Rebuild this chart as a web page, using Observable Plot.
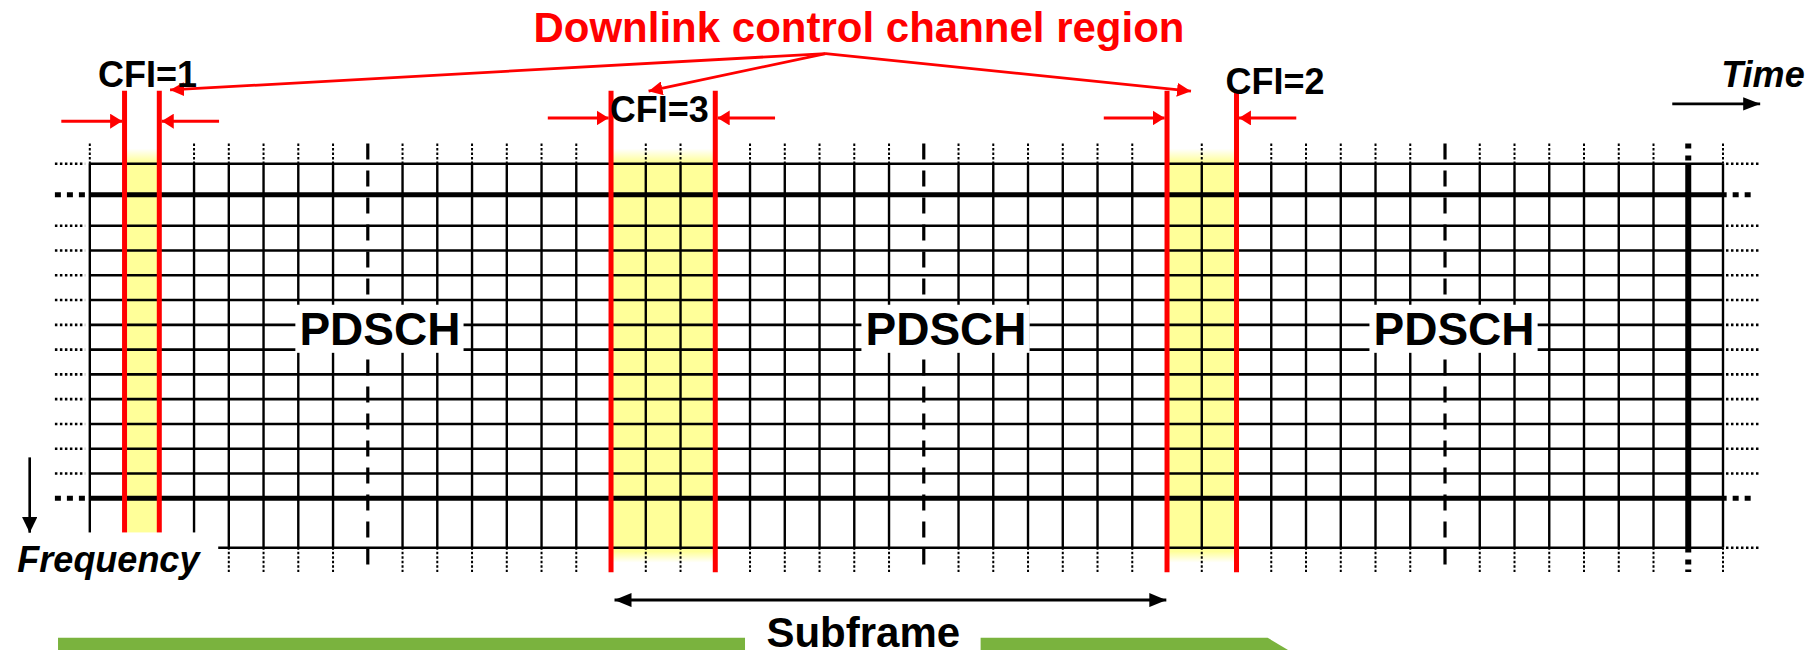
<!DOCTYPE html>
<html><head><meta charset="utf-8">
<script src="https://cdn.jsdelivr.net/npm/d3@7"></script>
<script src="https://cdn.jsdelivr.net/npm/@observablehq/plot@0.6"></script>
<style>html,body{margin:0;padding:0;background:#fff;} #chart svg{display:block}</style>
</head><body><div id="chart"></div>
<script>
// ---------------- data ----------------
// OFDM symbol boundaries (time axis, in symbol units)
const symbolLines = [0,3,4,5,6,7,9,10,11,12,13,14,16,17,19,20,21,22,23,25,26,27,28,29,30,32,34,35,36,37,38,40,41,42,43,44,45,47];
const slotBoundaries = [8, 24, 39];
const frameBoundaries = [46];
// subcarrier boundaries (frequency axis, in subcarrier units)
const subcarrierLines = [0, 1.25, 2.5, 3.5, 4.5, 5.5, 6.5, 7.5, 8.5, 9.5, 10.5, 11.5, 12.5, 13.5, 15.5];
const rbBoundaries = [1.25, 13.5];
// control regions
const cfiLabels = ["CFI=1", "CFI=3", "CFI=2"];
const cfiStartSymbol = [1, 15, 31];
const cfiValues = [1, 3, 2];
// channel labels
const channelLabels = ["PDSCH", "PDSCH", "PDSCH"];
const channelLabelSymbol = [8.35, 24.64, 39.26];
// texts
const titleText = "Downlink control channel region";
const timeText = "Time";
const freqText = "Frequency";
const subframeText = "Subframe";
const subframeSpan = [15, 31];

// ---------------- layout (data units) ----------------
const gridTop = 0, gridBottom = 15.5, extTop = -0.8, extBottom = 16.5;
const cfiLabelPos = [{x: 1.66, y: -3.10}, {x: 16.39, y: -1.685}, {x: 34.11, y: -2.835}];
const cfiArrowY = [-1.72, -1.85, -1.85];
const titlePos = {x: 22.135, y: -4.90};
const titleOrigin = {x: 21.18, y: -4.45};
const titleTips = [{x: 2.31, y: -2.98}, {x: 16.08, y: -2.93}, {x: 31.69, y: -2.93}];

// ---------------- derived tables ----------------
const thinRows = subcarrierLines.filter(d => !rbBoundaries.includes(d));
const cfi = cfiLabels.map((label, i) => ({
  label, start: cfiStartSymbol[i], end: cfiStartSymbol[i] + cfiValues[i],
  lx: cfiLabelPos[i].x, ly: cfiLabelPos[i].y, ay: cfiArrowY[i]
}));
const redLines = cfi.flatMap(d => [d.start, d.end]);
const cfiArrows = cfi.flatMap(d => [
  {x1: d.start - 1.82, x2: d.start - 0.07, y: d.ay},
  {x1: d.end + 1.72, x2: d.end + 0.07, y: d.ay}
]);
const titleLinks = titleTips.map(t => ({x1: titleOrigin.x, y1: titleOrigin.y, x2: t.x, y2: t.y}));
const pdsch = channelLabels.map((label, i) => ({label, x: channelLabelSymbol[i]}));
const greenBar = [
  {part: "a", x: -0.9, top: 19.15, bottom: 21.64},
  {part: "a", x: 18.87, top: 19.15, bottom: 21.64},
  {part: "b", x: 25.65, top: 19.15, bottom: 21.64},
  {part: "b", x: 33.91, top: 19.15, bottom: 21.64},
  {part: "b", x: 36.86, top: 21.64, bottom: 21.64}
];

const FONT = "Liberation Sans, Arial, Helvetica, sans-serif";
const RED = "#ff0000";
const YELLOW = "#ffff99";
const GREEN = "#7ab33e";

function tri(len, half, fillColor) {
  return (color) => {
    const ns = "http://www.w3.org/2000/svg";
    const m = document.createElementNS(ns, "marker");
    m.setAttribute("viewBox", `0 ${-half} ${len} ${2 * half}`);
    m.setAttribute("markerWidth", len);
    m.setAttribute("markerHeight", 2 * half);
    m.setAttribute("markerUnits", "userSpaceOnUse");
    m.setAttribute("refX", len);
    m.setAttribute("refY", 0);
    m.setAttribute("orient", "auto-start-reverse");
    const p = document.createElementNS(ns, "path");
    p.setAttribute("d", `M0,${-half}L${len},0L0,${half}Z`);
    p.setAttribute("fill", fillColor || color);
    p.setAttribute("stroke", "none");
    m.appendChild(p);
    return m;
  };
}

const plot = Plot.plot({
  width: 1816,
  height: 650,
  x: {domain: [0, 47], range: [89.3, 1722.5], axis: null},
  y: {domain: [0, 15.5], range: [163.3, 547.3], axis: null},
  style: {background: "white", fontFamily: FONT},
  marks: [
    // yellow control regions
    Plot.rect(cfi, {x1: "start", x2: "end", y1: () => extTop, y2: () => extBottom, fill: "url(#ctrlFade)"}),
    // vertical symbol lines
    Plot.ruleX(symbolLines, {x: d => d, y1: () => gridTop, y2: () => gridBottom, stroke: "black", strokeWidth: 2.4}),
    Plot.ruleX(symbolLines, {x: d => d, y1: () => extTop, y2: () => gridTop, stroke: "black", strokeWidth: 2, strokeDasharray: "2.5,2"}),
    Plot.ruleX(symbolLines, {x: d => d, y1: () => gridBottom, y2: () => extBottom, stroke: "black", strokeWidth: 2, strokeDasharray: "2.5,2"}),
    // slot boundaries (dashed)
    Plot.ruleX(slotBoundaries, {x: d => d, y1: () => extTop, y2: () => extBottom, stroke: "black", strokeWidth: 3.2, strokeDasharray: "16,11"}),
    // frame boundary (thick)
    Plot.ruleX(frameBoundaries, {x: d => d, y1: () => gridTop, y2: () => 15.71, stroke: "black", strokeWidth: 6}),
    Plot.ruleX(frameBoundaries, {x: d => d, y1: () => extTop, y2: () => gridTop, stroke: "black", strokeWidth: 6, strokeDasharray: "5,7"}),
    Plot.ruleX(frameBoundaries, {x: d => d, y1: () => 15.71, y2: () => extBottom, stroke: "black", strokeWidth: 6, strokeDasharray: "0,7,5,5,2"}),
    // horizontal subcarrier lines
    Plot.ruleY(thinRows, {y: d => d, x1: () => 0, x2: () => 47, stroke: "black", strokeWidth: 2.6}),
    Plot.ruleY(rbBoundaries, {y: d => d, x1: () => 0, x2: () => 47.12, stroke: "black", strokeWidth: 5}),
    // dotted continuation stubs
    Plot.ruleY(thinRows, {y: d => d, x1: () => -0.99, x2: () => -0.12, stroke: "black", strokeWidth: 2.6, strokeDasharray: "2.5,2.5"}),
    Plot.ruleY(rbBoundaries, {y: d => d, x1: () => -0.99, x2: () => -0.1, stroke: "black", strokeWidth: 5, strokeDasharray: "6,6"}),
    Plot.ruleY(thinRows, {y: d => d, x1: () => 47.1, x2: () => 48.05, stroke: "black", strokeWidth: 2.6, strokeDasharray: "2.5,2.5"}),
    Plot.ruleY(rbBoundaries, {y: d => d, x1: () => 47.12, x2: () => 48.0, stroke: "black", strokeWidth: 5, strokeDasharray: "0,6,6,6,6,6"}),
    // red control-region boundaries
    Plot.ruleX(redLines, {x: d => d, y1: () => -2.93, y2: () => 16.51, stroke: RED, strokeWidth: 5}),
    // white label backgrounds
    Plot.rect([0], {x1: () => -2.6, x2: () => 3.71, y1: () => 14.9, y2: () => 17.3, fill: "white"}),
    Plot.rect(pdsch, {x1: d => d.x - 2.42, x2: d => d.x + 2.42, y1: () => 5.71, y2: () => 7.65, fill: "white"}),
    Plot.text(pdsch, {x: "x", y: () => 7.33, text: "label", fontSize: 46, fontWeight: "bold", fontFamily: FONT, fill: "black", lineAnchor: "bottom"}),
    // red annotations
    Plot.text([titleText], {x: () => titlePos.x, y: () => titlePos.y, text: d => d, fontSize: 42, fontWeight: "bold", fontFamily: FONT, fill: RED, lineAnchor: "bottom"}),
    Plot.link(titleLinks, {x1: "x1", y1: "y1", x2: "x2", y2: "y2", stroke: RED, strokeWidth: 2.8, markerEnd: tri(14, 7, RED)}),
    Plot.link(cfiArrows, {x1: "x1", x2: "x2", y1: "y", y2: "y", stroke: RED, strokeWidth: 3, markerEnd: tri(12, 7.5, RED)}),
    Plot.text(cfi, {x: "lx", y: "ly", text: "label", fontSize: 36, fontWeight: "bold", fontFamily: FONT, fill: "black", lineAnchor: "bottom"}),
    // time / frequency
    Plot.text([timeText], {x: () => 48.15, y: () => -3.08, text: d => d, fontSize: 36, fontWeight: "bold", fontStyle: "italic", fontFamily: FONT, fill: "black", lineAnchor: "bottom"}),
    Plot.link([0], {x1: () => 45.54, x2: () => 48.07, y1: () => -2.42, y2: () => -2.42, stroke: "black", strokeWidth: 2.6, markerEnd: tri(17, 6.7, "black")}),
    Plot.text([freqText], {x: () => 0.535, y: () => 16.48, text: d => d, fontSize: 36, fontWeight: "bold", fontStyle: "italic", fontFamily: FONT, fill: "black", lineAnchor: "bottom"}),
    Plot.link([0], {x1: () => -1.73, x2: () => -1.73, y1: () => 11.85, y2: () => 14.89, stroke: "black", strokeWidth: 2.6, markerEnd: tri(16, 7.8, "black")}),
    // subframe
    Plot.link([subframeSpan], {x1: d => d[0] + 0.1, x2: d => d[1] - 0.02, y1: () => 17.61, y2: () => 17.61, stroke: "black", strokeWidth: 3, markerStart: tri(17, 7, "black"), markerEnd: tri(17, 7, "black")}),
    Plot.area(greenBar, {x1: "x", y1: "top", y2: "bottom", z: "part", fill: GREEN}),
    Plot.text([subframeText], {x: () => 22.26, y: () => 19.49, text: d => d, fontSize: 42, fontWeight: "bold", fontFamily: FONT, fill: "black", lineAnchor: "bottom"})
  ]
});

// gradient for the yellow control region fading at the ends
const defs = d3.select(plot).insert("defs", ":first-child");
const g = defs.append("linearGradient").attr("id", "ctrlFade").attr("x1", 0).attr("y1", 0).attr("x2", 0).attr("y2", 1);
[[0, 0], [0.012, 0], [0.044, 1], [0.952, 1], [0.978, 0], [1, 0]].forEach(([o, a]) =>
  g.append("stop").attr("offset", o).attr("stop-color", YELLOW).attr("stop-opacity", a));

document.getElementById("chart").appendChild(plot);
</script>
</body></html>
